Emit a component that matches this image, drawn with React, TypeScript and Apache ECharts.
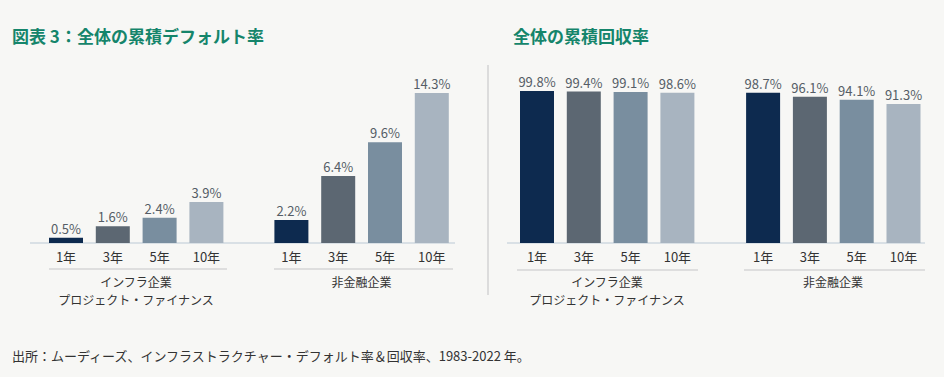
import React, { useEffect, useRef } from "react";
import * as echarts from "echarts";

const periods = ["1年", "3年", "5年", "10年"];
const defaultInfra = [0.5, 1.6, 2.4, 3.9];
const defaultCorp = [2.2, 6.4, 9.6, 14.3];
const recoveryInfra = [99.8, 99.4, 99.1, 98.6];
const recoveryCorp = [98.7, 96.1, 94.1, 91.3];
const barColors = ["#0d2a4f", "#5c6772", "#798e9f", "#a8b4c0"];
const groupInfra = ["インフラ企業", "プロジェクト・ファイナンス"];
const groupCorp = ["非金融企業"];
const titleLeft = "図表 3：全体の累積デフォルト率";
const titleRight = "全体の累積回収率";
const source = "出所：ムーディーズ、インフラストラクチャー・デフォルト率＆回収率、1983-2022 年。";

const FONT = "'Noto Sans CJK JP', 'Noto Sans', sans-serif";

export default function App() {
  const ref = useRef<HTMLDivElement>(null);
  useEffect(() => {
    document.body.style.margin = "0";
    const chart = echarts.init(ref.current!, null, { renderer: "svg" });
    const baseY = 243;
    const gridDefs = [
      { left: 42.6, max: 15, h: 157.3, data: defaultInfra },
      { left: 268, max: 15, h: 157.3, data: defaultCorp },
      { left: 513.6, max: 100, h: 152.3, data: recoveryInfra },
      { left: 739.7, max: 100, h: 152.3, data: recoveryCorp },
    ];
    const gw = 187.2;
    const grid = gridDefs.map((g) => ({
      left: g.left,
      width: gw,
      top: baseY - g.h,
      height: g.h,
    }));
    const xAxis = gridDefs.map((g, i) => ({
      type: "category",
      gridIndex: i,
      data: periods,
      axisLine: { show: false },
      axisTick: { show: false },
      axisLabel: { color: "#333", fontSize: 13, fontFamily: FONT, margin: 7 },
    }));
    const yAxis = gridDefs.map((g, i) => ({
      type: "value",
      gridIndex: i,
      min: 0,
      max: g.max,
      show: false,
    }));
    const series = gridDefs.map((g, i) => ({
      type: "bar",
      xAxisIndex: i,
      yAxisIndex: i,
      barWidth: 34,
      data: g.data.map((v, j) => ({ value: v, itemStyle: { color: barColors[j] } })),
      label: {
        show: true,
        position: "top",
        distance: 3,
        formatter: (p: any) => p.value.toFixed(1) + "%",
        color: "#555d66",
        fontSize: 13,
        fontFamily: FONT,
      },
    }));
    const lineStyle = { stroke: "#cfd8df", lineWidth: 1.5 };
    const sepStyle = { stroke: "#d6d6d6", lineWidth: 1.5 };
    const groupLabel = (x: number, lines: string[]) =>
      lines.map((text, k) => ({
        type: "text",
        x,
        y: 281 + k * 18,
        style: {
          text,
          fill: "#333",
          font: `12px ${FONT}`,
          align: "center",
          verticalAlign: "middle",
        },
      }));
    chart.setOption({
      animation: false,
      backgroundColor: "#f7f7f5",
      grid,
      xAxis,
      yAxis,
      series,
      graphic: [
        { type: "text", x: 12, y: 35, style: { text: titleLeft, fill: "#15856b", font: `bold 17px ${FONT}`, verticalAlign: "middle" } },
        { type: "text", x: 513, y: 35, style: { text: titleRight, fill: "#15856b", font: `bold 17px ${FONT}`, verticalAlign: "middle" } },
        { type: "line", shape: { x1: 488, y1: 65, x2: 488, y2: 295 }, style: { stroke: "#dcdcdc", lineWidth: 2 } },
        { type: "line", shape: { x1: 30, y1: baseY, x2: 455, y2: baseY }, style: lineStyle },
        { type: "line", shape: { x1: 507, y1: baseY, x2: 925, y2: baseY }, style: lineStyle },
        { type: "line", shape: { x1: 49, y1: 269, x2: 227, y2: 269 }, style: sepStyle },
        { type: "line", shape: { x1: 274, y1: 269, x2: 453, y2: 269 }, style: sepStyle },
        { type: "line", shape: { x1: 517, y1: 270, x2: 698, y2: 270 }, style: sepStyle },
        { type: "line", shape: { x1: 744, y1: 270, x2: 925, y2: 270 }, style: sepStyle },
        ...groupLabel(136, groupInfra),
        ...groupLabel(361.5, groupCorp),
        ...groupLabel(607, groupInfra),
        ...groupLabel(833, groupCorp),
        { type: "text", x: 12, y: 355, style: { text: source, fill: "#333", font: `13px ${FONT}`, verticalAlign: "middle" } },
      ],
    });
    return () => chart.dispose();
  }, []);
  return <div ref={ref} style={{ width: 944, height: 377 }} />;
}
